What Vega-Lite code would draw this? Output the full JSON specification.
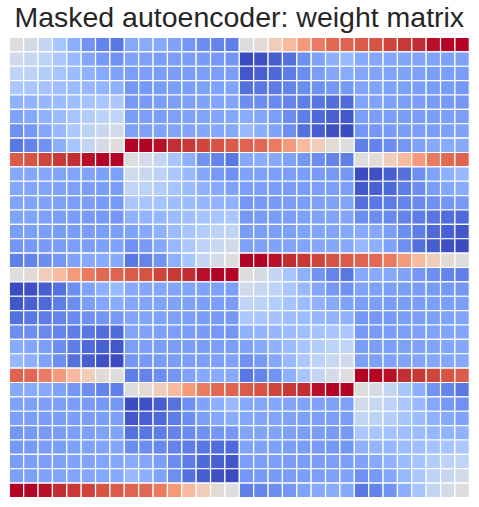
{
"$schema": "https://vega.github.io/schema/vega-lite/v6.json",
"autosize": {"type": "none"},
"width": 460,
"height": 460,
"padding": {"left": 9.3, "top": 37.5, "right": 10, "bottom": 10},
"background": "white",
"title": {"text": "Masked autoencoder: weight matrix", "font": "Liberation Sans", "fontSize": 28.5, "fontWeight": "normal", "color": "#262626", "anchor": "middle", "offset": 4},
"config": {"view": {"stroke": null}},
"data": {"values": [
{"r":0,"c":0,"v":0},{"r":0,"c":1,"v":-0.06},{"r":0,"c":2,"v":-0.18},{"r":0,"c":3,"v":-0.35},{"r":0,"c":4,"v":-0.5},{"r":0,"c":5,"v":-0.66},{"r":0,"c":6,"v":-0.74},{"r":0,"c":7,"v":-0.8},
{"r":0,"c":8,"v":-0.54},{"r":0,"c":9,"v":-0.53},{"r":0,"c":10,"v":-0.54},{"r":0,"c":11,"v":-0.58},{"r":0,"c":12,"v":-0.64},{"r":0,"c":13,"v":-0.69},{"r":0,"c":14,"v":-0.74},{"r":0,"c":15,"v":-0.76},
{"r":0,"c":16,"v":0},{"r":0,"c":17,"v":0.04},{"r":0,"c":18,"v":0.18},{"r":0,"c":19,"v":0.32},{"r":0,"c":20,"v":0.5},{"r":0,"c":21,"v":0.64},{"r":0,"c":22,"v":0.72},{"r":0,"c":23,"v":0.74},
{"r":0,"c":24,"v":0.77},{"r":0,"c":25,"v":0.8},{"r":0,"c":26,"v":0.85},{"r":0,"c":27,"v":0.89},{"r":0,"c":28,"v":0.92},{"r":0,"c":29,"v":0.98},{"r":0,"c":30,"v":1},{"r":0,"c":31,"v":1},
{"r":1,"c":0,"v":-0.1},{"r":1,"c":1,"v":-0.15},{"r":1,"c":2,"v":-0.22},{"r":1,"c":3,"v":-0.33},{"r":1,"c":4,"v":-0.44},{"r":1,"c":5,"v":-0.55},{"r":1,"c":6,"v":-0.63},{"r":1,"c":7,"v":-0.67},
{"r":1,"c":8,"v":-0.58},{"r":1,"c":9,"v":-0.59},{"r":1,"c":10,"v":-0.6},{"r":1,"c":11,"v":-0.6},{"r":1,"c":12,"v":-0.61},{"r":1,"c":13,"v":-0.62},{"r":1,"c":14,"v":-0.63},{"r":1,"c":15,"v":-0.64},
{"r":1,"c":16,"v":-1},{"r":1,"c":17,"v":-0.98},{"r":1,"c":18,"v":-0.92},{"r":1,"c":19,"v":-0.83},{"r":1,"c":20,"v":-0.68},{"r":1,"c":21,"v":-0.58},{"r":1,"c":22,"v":-0.5},{"r":1,"c":23,"v":-0.44},
{"r":1,"c":24,"v":-0.54},{"r":1,"c":25,"v":-0.55},{"r":1,"c":26,"v":-0.55},{"r":1,"c":27,"v":-0.56},{"r":1,"c":28,"v":-0.57},{"r":1,"c":29,"v":-0.58},{"r":1,"c":30,"v":-0.59},{"r":1,"c":31,"v":-0.59},
{"r":2,"c":0,"v":-0.2},{"r":2,"c":1,"v":-0.22},{"r":2,"c":2,"v":-0.28},{"r":2,"c":3,"v":-0.36},{"r":2,"c":4,"v":-0.42},{"r":2,"c":5,"v":-0.49},{"r":2,"c":6,"v":-0.54},{"r":2,"c":7,"v":-0.58},
{"r":2,"c":8,"v":-0.6},{"r":2,"c":9,"v":-0.6},{"r":2,"c":10,"v":-0.61},{"r":2,"c":11,"v":-0.61},{"r":2,"c":12,"v":-0.61},{"r":2,"c":13,"v":-0.6},{"r":2,"c":14,"v":-0.6},{"r":2,"c":15,"v":-0.6},
{"r":2,"c":16,"v":-0.95},{"r":2,"c":17,"v":-0.91},{"r":2,"c":18,"v":-0.87},{"r":2,"c":19,"v":-0.77},{"r":2,"c":20,"v":-0.69},{"r":2,"c":21,"v":-0.6},{"r":2,"c":22,"v":-0.55},{"r":2,"c":23,"v":-0.53},
{"r":2,"c":24,"v":-0.55},{"r":2,"c":25,"v":-0.56},{"r":2,"c":26,"v":-0.57},{"r":2,"c":27,"v":-0.58},{"r":2,"c":28,"v":-0.59},{"r":2,"c":29,"v":-0.6},{"r":2,"c":30,"v":-0.6},{"r":2,"c":31,"v":-0.61},
{"r":3,"c":0,"v":-0.33},{"r":3,"c":1,"v":-0.35},{"r":3,"c":2,"v":-0.37},{"r":3,"c":3,"v":-0.4},{"r":3,"c":4,"v":-0.42},{"r":3,"c":5,"v":-0.45},{"r":3,"c":6,"v":-0.47},{"r":3,"c":7,"v":-0.49},
{"r":3,"c":8,"v":-0.64},{"r":3,"c":9,"v":-0.63},{"r":3,"c":10,"v":-0.62},{"r":3,"c":11,"v":-0.61},{"r":3,"c":12,"v":-0.6},{"r":3,"c":13,"v":-0.59},{"r":3,"c":14,"v":-0.58},{"r":3,"c":15,"v":-0.57},
{"r":3,"c":16,"v":-0.83},{"r":3,"c":17,"v":-0.8},{"r":3,"c":18,"v":-0.78},{"r":3,"c":19,"v":-0.74},{"r":3,"c":20,"v":-0.7},{"r":3,"c":21,"v":-0.67},{"r":3,"c":22,"v":-0.64},{"r":3,"c":23,"v":-0.63},
{"r":3,"c":24,"v":-0.56},{"r":3,"c":25,"v":-0.57},{"r":3,"c":26,"v":-0.58},{"r":3,"c":27,"v":-0.59},{"r":3,"c":28,"v":-0.6},{"r":3,"c":29,"v":-0.61},{"r":3,"c":30,"v":-0.62},{"r":3,"c":31,"v":-0.63},
{"r":4,"c":0,"v":-0.49},{"r":4,"c":1,"v":-0.47},{"r":4,"c":2,"v":-0.45},{"r":4,"c":3,"v":-0.42},{"r":4,"c":4,"v":-0.4},{"r":4,"c":5,"v":-0.37},{"r":4,"c":6,"v":-0.35},{"r":4,"c":7,"v":-0.33},
{"r":4,"c":8,"v":-0.63},{"r":4,"c":9,"v":-0.62},{"r":4,"c":10,"v":-0.61},{"r":4,"c":11,"v":-0.6},{"r":4,"c":12,"v":-0.59},{"r":4,"c":13,"v":-0.58},{"r":4,"c":14,"v":-0.57},{"r":4,"c":15,"v":-0.56},
{"r":4,"c":16,"v":-0.69},{"r":4,"c":17,"v":-0.69},{"r":4,"c":18,"v":-0.71},{"r":4,"c":19,"v":-0.74},{"r":4,"c":20,"v":-0.77},{"r":4,"c":21,"v":-0.81},{"r":4,"c":22,"v":-0.85},{"r":4,"c":23,"v":-0.86},
{"r":4,"c":24,"v":-0.57},{"r":4,"c":25,"v":-0.58},{"r":4,"c":26,"v":-0.59},{"r":4,"c":27,"v":-0.6},{"r":4,"c":28,"v":-0.61},{"r":4,"c":29,"v":-0.62},{"r":4,"c":30,"v":-0.63},{"r":4,"c":31,"v":-0.64},
{"r":5,"c":0,"v":-0.58},{"r":5,"c":1,"v":-0.54},{"r":5,"c":2,"v":-0.49},{"r":5,"c":3,"v":-0.42},{"r":5,"c":4,"v":-0.36},{"r":5,"c":5,"v":-0.28},{"r":5,"c":6,"v":-0.22},{"r":5,"c":7,"v":-0.2},
{"r":5,"c":8,"v":-0.61},{"r":5,"c":9,"v":-0.6},{"r":5,"c":10,"v":-0.6},{"r":5,"c":11,"v":-0.59},{"r":5,"c":12,"v":-0.58},{"r":5,"c":13,"v":-0.57},{"r":5,"c":14,"v":-0.56},{"r":5,"c":15,"v":-0.55},
{"r":5,"c":16,"v":-0.53},{"r":5,"c":17,"v":-0.55},{"r":5,"c":18,"v":-0.6},{"r":5,"c":19,"v":-0.69},{"r":5,"c":20,"v":-0.77},{"r":5,"c":21,"v":-0.87},{"r":5,"c":22,"v":-0.91},{"r":5,"c":23,"v":-0.95},
{"r":5,"c":24,"v":-0.6},{"r":5,"c":25,"v":-0.6},{"r":5,"c":26,"v":-0.6},{"r":5,"c":27,"v":-0.61},{"r":5,"c":28,"v":-0.61},{"r":5,"c":29,"v":-0.61},{"r":5,"c":30,"v":-0.6},{"r":5,"c":31,"v":-0.6},
{"r":6,"c":0,"v":-0.67},{"r":6,"c":1,"v":-0.63},{"r":6,"c":2,"v":-0.55},{"r":6,"c":3,"v":-0.44},{"r":6,"c":4,"v":-0.33},{"r":6,"c":5,"v":-0.22},{"r":6,"c":6,"v":-0.15},{"r":6,"c":7,"v":-0.1},
{"r":6,"c":8,"v":-0.59},{"r":6,"c":9,"v":-0.59},{"r":6,"c":10,"v":-0.58},{"r":6,"c":11,"v":-0.57},{"r":6,"c":12,"v":-0.56},{"r":6,"c":13,"v":-0.55},{"r":6,"c":14,"v":-0.55},{"r":6,"c":15,"v":-0.54},
{"r":6,"c":16,"v":-0.44},{"r":6,"c":17,"v":-0.5},{"r":6,"c":18,"v":-0.58},{"r":6,"c":19,"v":-0.68},{"r":6,"c":20,"v":-0.83},{"r":6,"c":21,"v":-0.92},{"r":6,"c":22,"v":-0.98},{"r":6,"c":23,"v":-1},
{"r":6,"c":24,"v":-0.64},{"r":6,"c":25,"v":-0.63},{"r":6,"c":26,"v":-0.62},{"r":6,"c":27,"v":-0.61},{"r":6,"c":28,"v":-0.6},{"r":6,"c":29,"v":-0.6},{"r":6,"c":30,"v":-0.59},{"r":6,"c":31,"v":-0.58},
{"r":7,"c":0,"v":-0.8},{"r":7,"c":1,"v":-0.74},{"r":7,"c":2,"v":-0.66},{"r":7,"c":3,"v":-0.5},{"r":7,"c":4,"v":-0.35},{"r":7,"c":5,"v":-0.18},{"r":7,"c":6,"v":-0.06},{"r":7,"c":7,"v":0},
{"r":7,"c":8,"v":1},{"r":7,"c":9,"v":1},{"r":7,"c":10,"v":0.98},{"r":7,"c":11,"v":0.92},{"r":7,"c":12,"v":0.89},{"r":7,"c":13,"v":0.85},{"r":7,"c":14,"v":0.8},{"r":7,"c":15,"v":0.77},
{"r":7,"c":16,"v":0.74},{"r":7,"c":17,"v":0.72},{"r":7,"c":18,"v":0.64},{"r":7,"c":19,"v":0.5},{"r":7,"c":20,"v":0.32},{"r":7,"c":21,"v":0.18},{"r":7,"c":22,"v":0.04},{"r":7,"c":23,"v":0},
{"r":7,"c":24,"v":-0.76},{"r":7,"c":25,"v":-0.74},{"r":7,"c":26,"v":-0.69},{"r":7,"c":27,"v":-0.64},{"r":7,"c":28,"v":-0.58},{"r":7,"c":29,"v":-0.54},{"r":7,"c":30,"v":-0.53},{"r":7,"c":31,"v":-0.54},
{"r":8,"c":0,"v":0.77},{"r":8,"c":1,"v":0.8},{"r":8,"c":2,"v":0.85},{"r":8,"c":3,"v":0.89},{"r":8,"c":4,"v":0.92},{"r":8,"c":5,"v":0.98},{"r":8,"c":6,"v":1},{"r":8,"c":7,"v":1},
{"r":8,"c":8,"v":0},{"r":8,"c":9,"v":-0.06},{"r":8,"c":10,"v":-0.18},{"r":8,"c":11,"v":-0.35},{"r":8,"c":12,"v":-0.5},{"r":8,"c":13,"v":-0.66},{"r":8,"c":14,"v":-0.74},{"r":8,"c":15,"v":-0.8},
{"r":8,"c":16,"v":-0.54},{"r":8,"c":17,"v":-0.53},{"r":8,"c":18,"v":-0.54},{"r":8,"c":19,"v":-0.58},{"r":8,"c":20,"v":-0.64},{"r":8,"c":21,"v":-0.69},{"r":8,"c":22,"v":-0.74},{"r":8,"c":23,"v":-0.76},
{"r":8,"c":24,"v":0},{"r":8,"c":25,"v":0.04},{"r":8,"c":26,"v":0.18},{"r":8,"c":27,"v":0.32},{"r":8,"c":28,"v":0.5},{"r":8,"c":29,"v":0.64},{"r":8,"c":30,"v":0.72},{"r":8,"c":31,"v":0.74},
{"r":9,"c":0,"v":-0.54},{"r":9,"c":1,"v":-0.55},{"r":9,"c":2,"v":-0.55},{"r":9,"c":3,"v":-0.56},{"r":9,"c":4,"v":-0.57},{"r":9,"c":5,"v":-0.58},{"r":9,"c":6,"v":-0.59},{"r":9,"c":7,"v":-0.59},
{"r":9,"c":8,"v":-0.1},{"r":9,"c":9,"v":-0.15},{"r":9,"c":10,"v":-0.22},{"r":9,"c":11,"v":-0.33},{"r":9,"c":12,"v":-0.44},{"r":9,"c":13,"v":-0.55},{"r":9,"c":14,"v":-0.63},{"r":9,"c":15,"v":-0.67},
{"r":9,"c":16,"v":-0.58},{"r":9,"c":17,"v":-0.59},{"r":9,"c":18,"v":-0.6},{"r":9,"c":19,"v":-0.6},{"r":9,"c":20,"v":-0.61},{"r":9,"c":21,"v":-0.62},{"r":9,"c":22,"v":-0.63},{"r":9,"c":23,"v":-0.64},
{"r":9,"c":24,"v":-1},{"r":9,"c":25,"v":-0.98},{"r":9,"c":26,"v":-0.92},{"r":9,"c":27,"v":-0.83},{"r":9,"c":28,"v":-0.68},{"r":9,"c":29,"v":-0.58},{"r":9,"c":30,"v":-0.5},{"r":9,"c":31,"v":-0.44},
{"r":10,"c":0,"v":-0.55},{"r":10,"c":1,"v":-0.56},{"r":10,"c":2,"v":-0.57},{"r":10,"c":3,"v":-0.58},{"r":10,"c":4,"v":-0.59},{"r":10,"c":5,"v":-0.6},{"r":10,"c":6,"v":-0.6},{"r":10,"c":7,"v":-0.61},
{"r":10,"c":8,"v":-0.2},{"r":10,"c":9,"v":-0.22},{"r":10,"c":10,"v":-0.28},{"r":10,"c":11,"v":-0.36},{"r":10,"c":12,"v":-0.42},{"r":10,"c":13,"v":-0.49},{"r":10,"c":14,"v":-0.54},{"r":10,"c":15,"v":-0.58},
{"r":10,"c":16,"v":-0.6},{"r":10,"c":17,"v":-0.6},{"r":10,"c":18,"v":-0.61},{"r":10,"c":19,"v":-0.61},{"r":10,"c":20,"v":-0.61},{"r":10,"c":21,"v":-0.6},{"r":10,"c":22,"v":-0.6},{"r":10,"c":23,"v":-0.6},
{"r":10,"c":24,"v":-0.95},{"r":10,"c":25,"v":-0.91},{"r":10,"c":26,"v":-0.87},{"r":10,"c":27,"v":-0.77},{"r":10,"c":28,"v":-0.69},{"r":10,"c":29,"v":-0.6},{"r":10,"c":30,"v":-0.55},{"r":10,"c":31,"v":-0.53},
{"r":11,"c":0,"v":-0.56},{"r":11,"c":1,"v":-0.57},{"r":11,"c":2,"v":-0.58},{"r":11,"c":3,"v":-0.59},{"r":11,"c":4,"v":-0.6},{"r":11,"c":5,"v":-0.61},{"r":11,"c":6,"v":-0.62},{"r":11,"c":7,"v":-0.63},
{"r":11,"c":8,"v":-0.33},{"r":11,"c":9,"v":-0.35},{"r":11,"c":10,"v":-0.37},{"r":11,"c":11,"v":-0.4},{"r":11,"c":12,"v":-0.42},{"r":11,"c":13,"v":-0.45},{"r":11,"c":14,"v":-0.47},{"r":11,"c":15,"v":-0.49},
{"r":11,"c":16,"v":-0.64},{"r":11,"c":17,"v":-0.63},{"r":11,"c":18,"v":-0.62},{"r":11,"c":19,"v":-0.61},{"r":11,"c":20,"v":-0.6},{"r":11,"c":21,"v":-0.59},{"r":11,"c":22,"v":-0.58},{"r":11,"c":23,"v":-0.57},
{"r":11,"c":24,"v":-0.83},{"r":11,"c":25,"v":-0.8},{"r":11,"c":26,"v":-0.78},{"r":11,"c":27,"v":-0.74},{"r":11,"c":28,"v":-0.7},{"r":11,"c":29,"v":-0.67},{"r":11,"c":30,"v":-0.64},{"r":11,"c":31,"v":-0.63},
{"r":12,"c":0,"v":-0.57},{"r":12,"c":1,"v":-0.58},{"r":12,"c":2,"v":-0.59},{"r":12,"c":3,"v":-0.6},{"r":12,"c":4,"v":-0.61},{"r":12,"c":5,"v":-0.62},{"r":12,"c":6,"v":-0.63},{"r":12,"c":7,"v":-0.64},
{"r":12,"c":8,"v":-0.49},{"r":12,"c":9,"v":-0.47},{"r":12,"c":10,"v":-0.45},{"r":12,"c":11,"v":-0.42},{"r":12,"c":12,"v":-0.4},{"r":12,"c":13,"v":-0.37},{"r":12,"c":14,"v":-0.35},{"r":12,"c":15,"v":-0.33},
{"r":12,"c":16,"v":-0.63},{"r":12,"c":17,"v":-0.62},{"r":12,"c":18,"v":-0.61},{"r":12,"c":19,"v":-0.6},{"r":12,"c":20,"v":-0.59},{"r":12,"c":21,"v":-0.58},{"r":12,"c":22,"v":-0.57},{"r":12,"c":23,"v":-0.56},
{"r":12,"c":24,"v":-0.69},{"r":12,"c":25,"v":-0.69},{"r":12,"c":26,"v":-0.71},{"r":12,"c":27,"v":-0.74},{"r":12,"c":28,"v":-0.77},{"r":12,"c":29,"v":-0.81},{"r":12,"c":30,"v":-0.85},{"r":12,"c":31,"v":-0.86},
{"r":13,"c":0,"v":-0.6},{"r":13,"c":1,"v":-0.6},{"r":13,"c":2,"v":-0.6},{"r":13,"c":3,"v":-0.61},{"r":13,"c":4,"v":-0.61},{"r":13,"c":5,"v":-0.61},{"r":13,"c":6,"v":-0.6},{"r":13,"c":7,"v":-0.6},
{"r":13,"c":8,"v":-0.58},{"r":13,"c":9,"v":-0.54},{"r":13,"c":10,"v":-0.49},{"r":13,"c":11,"v":-0.42},{"r":13,"c":12,"v":-0.36},{"r":13,"c":13,"v":-0.28},{"r":13,"c":14,"v":-0.22},{"r":13,"c":15,"v":-0.2},
{"r":13,"c":16,"v":-0.61},{"r":13,"c":17,"v":-0.6},{"r":13,"c":18,"v":-0.6},{"r":13,"c":19,"v":-0.59},{"r":13,"c":20,"v":-0.58},{"r":13,"c":21,"v":-0.57},{"r":13,"c":22,"v":-0.56},{"r":13,"c":23,"v":-0.55},
{"r":13,"c":24,"v":-0.53},{"r":13,"c":25,"v":-0.55},{"r":13,"c":26,"v":-0.6},{"r":13,"c":27,"v":-0.69},{"r":13,"c":28,"v":-0.77},{"r":13,"c":29,"v":-0.87},{"r":13,"c":30,"v":-0.91},{"r":13,"c":31,"v":-0.95},
{"r":14,"c":0,"v":-0.64},{"r":14,"c":1,"v":-0.63},{"r":14,"c":2,"v":-0.62},{"r":14,"c":3,"v":-0.61},{"r":14,"c":4,"v":-0.6},{"r":14,"c":5,"v":-0.6},{"r":14,"c":6,"v":-0.59},{"r":14,"c":7,"v":-0.58},
{"r":14,"c":8,"v":-0.67},{"r":14,"c":9,"v":-0.63},{"r":14,"c":10,"v":-0.55},{"r":14,"c":11,"v":-0.44},{"r":14,"c":12,"v":-0.33},{"r":14,"c":13,"v":-0.22},{"r":14,"c":14,"v":-0.15},{"r":14,"c":15,"v":-0.1},
{"r":14,"c":16,"v":-0.59},{"r":14,"c":17,"v":-0.59},{"r":14,"c":18,"v":-0.58},{"r":14,"c":19,"v":-0.57},{"r":14,"c":20,"v":-0.56},{"r":14,"c":21,"v":-0.55},{"r":14,"c":22,"v":-0.55},{"r":14,"c":23,"v":-0.54},
{"r":14,"c":24,"v":-0.44},{"r":14,"c":25,"v":-0.5},{"r":14,"c":26,"v":-0.58},{"r":14,"c":27,"v":-0.68},{"r":14,"c":28,"v":-0.83},{"r":14,"c":29,"v":-0.92},{"r":14,"c":30,"v":-0.98},{"r":14,"c":31,"v":-1},
{"r":15,"c":0,"v":-0.76},{"r":15,"c":1,"v":-0.74},{"r":15,"c":2,"v":-0.69},{"r":15,"c":3,"v":-0.64},{"r":15,"c":4,"v":-0.58},{"r":15,"c":5,"v":-0.54},{"r":15,"c":6,"v":-0.53},{"r":15,"c":7,"v":-0.54},
{"r":15,"c":8,"v":-0.8},{"r":15,"c":9,"v":-0.74},{"r":15,"c":10,"v":-0.66},{"r":15,"c":11,"v":-0.5},{"r":15,"c":12,"v":-0.35},{"r":15,"c":13,"v":-0.18},{"r":15,"c":14,"v":-0.06},{"r":15,"c":15,"v":0},
{"r":15,"c":16,"v":1},{"r":15,"c":17,"v":1},{"r":15,"c":18,"v":0.98},{"r":15,"c":19,"v":0.92},{"r":15,"c":20,"v":0.89},{"r":15,"c":21,"v":0.85},{"r":15,"c":22,"v":0.8},{"r":15,"c":23,"v":0.77},
{"r":15,"c":24,"v":0.74},{"r":15,"c":25,"v":0.72},{"r":15,"c":26,"v":0.64},{"r":15,"c":27,"v":0.5},{"r":15,"c":28,"v":0.32},{"r":15,"c":29,"v":0.18},{"r":15,"c":30,"v":0.04},{"r":15,"c":31,"v":0},
{"r":16,"c":0,"v":0},{"r":16,"c":1,"v":0.04},{"r":16,"c":2,"v":0.18},{"r":16,"c":3,"v":0.32},{"r":16,"c":4,"v":0.5},{"r":16,"c":5,"v":0.64},{"r":16,"c":6,"v":0.72},{"r":16,"c":7,"v":0.74},
{"r":16,"c":8,"v":0.77},{"r":16,"c":9,"v":0.8},{"r":16,"c":10,"v":0.85},{"r":16,"c":11,"v":0.89},{"r":16,"c":12,"v":0.92},{"r":16,"c":13,"v":0.98},{"r":16,"c":14,"v":1},{"r":16,"c":15,"v":1},
{"r":16,"c":16,"v":0},{"r":16,"c":17,"v":-0.06},{"r":16,"c":18,"v":-0.18},{"r":16,"c":19,"v":-0.35},{"r":16,"c":20,"v":-0.5},{"r":16,"c":21,"v":-0.66},{"r":16,"c":22,"v":-0.74},{"r":16,"c":23,"v":-0.8},
{"r":16,"c":24,"v":-0.54},{"r":16,"c":25,"v":-0.53},{"r":16,"c":26,"v":-0.54},{"r":16,"c":27,"v":-0.58},{"r":16,"c":28,"v":-0.64},{"r":16,"c":29,"v":-0.69},{"r":16,"c":30,"v":-0.74},{"r":16,"c":31,"v":-0.76},
{"r":17,"c":0,"v":-1},{"r":17,"c":1,"v":-0.98},{"r":17,"c":2,"v":-0.92},{"r":17,"c":3,"v":-0.83},{"r":17,"c":4,"v":-0.68},{"r":17,"c":5,"v":-0.58},{"r":17,"c":6,"v":-0.5},{"r":17,"c":7,"v":-0.44},
{"r":17,"c":8,"v":-0.54},{"r":17,"c":9,"v":-0.55},{"r":17,"c":10,"v":-0.55},{"r":17,"c":11,"v":-0.56},{"r":17,"c":12,"v":-0.57},{"r":17,"c":13,"v":-0.58},{"r":17,"c":14,"v":-0.59},{"r":17,"c":15,"v":-0.59},
{"r":17,"c":16,"v":-0.1},{"r":17,"c":17,"v":-0.15},{"r":17,"c":18,"v":-0.22},{"r":17,"c":19,"v":-0.33},{"r":17,"c":20,"v":-0.44},{"r":17,"c":21,"v":-0.55},{"r":17,"c":22,"v":-0.63},{"r":17,"c":23,"v":-0.67},
{"r":17,"c":24,"v":-0.58},{"r":17,"c":25,"v":-0.59},{"r":17,"c":26,"v":-0.6},{"r":17,"c":27,"v":-0.6},{"r":17,"c":28,"v":-0.61},{"r":17,"c":29,"v":-0.62},{"r":17,"c":30,"v":-0.63},{"r":17,"c":31,"v":-0.64},
{"r":18,"c":0,"v":-0.95},{"r":18,"c":1,"v":-0.91},{"r":18,"c":2,"v":-0.87},{"r":18,"c":3,"v":-0.77},{"r":18,"c":4,"v":-0.69},{"r":18,"c":5,"v":-0.6},{"r":18,"c":6,"v":-0.55},{"r":18,"c":7,"v":-0.53},
{"r":18,"c":8,"v":-0.55},{"r":18,"c":9,"v":-0.56},{"r":18,"c":10,"v":-0.57},{"r":18,"c":11,"v":-0.58},{"r":18,"c":12,"v":-0.59},{"r":18,"c":13,"v":-0.6},{"r":18,"c":14,"v":-0.6},{"r":18,"c":15,"v":-0.61},
{"r":18,"c":16,"v":-0.2},{"r":18,"c":17,"v":-0.22},{"r":18,"c":18,"v":-0.28},{"r":18,"c":19,"v":-0.36},{"r":18,"c":20,"v":-0.42},{"r":18,"c":21,"v":-0.49},{"r":18,"c":22,"v":-0.54},{"r":18,"c":23,"v":-0.58},
{"r":18,"c":24,"v":-0.6},{"r":18,"c":25,"v":-0.6},{"r":18,"c":26,"v":-0.61},{"r":18,"c":27,"v":-0.61},{"r":18,"c":28,"v":-0.61},{"r":18,"c":29,"v":-0.6},{"r":18,"c":30,"v":-0.6},{"r":18,"c":31,"v":-0.6},
{"r":19,"c":0,"v":-0.83},{"r":19,"c":1,"v":-0.8},{"r":19,"c":2,"v":-0.78},{"r":19,"c":3,"v":-0.74},{"r":19,"c":4,"v":-0.7},{"r":19,"c":5,"v":-0.67},{"r":19,"c":6,"v":-0.64},{"r":19,"c":7,"v":-0.63},
{"r":19,"c":8,"v":-0.56},{"r":19,"c":9,"v":-0.57},{"r":19,"c":10,"v":-0.58},{"r":19,"c":11,"v":-0.59},{"r":19,"c":12,"v":-0.6},{"r":19,"c":13,"v":-0.61},{"r":19,"c":14,"v":-0.62},{"r":19,"c":15,"v":-0.63},
{"r":19,"c":16,"v":-0.33},{"r":19,"c":17,"v":-0.35},{"r":19,"c":18,"v":-0.37},{"r":19,"c":19,"v":-0.4},{"r":19,"c":20,"v":-0.42},{"r":19,"c":21,"v":-0.45},{"r":19,"c":22,"v":-0.47},{"r":19,"c":23,"v":-0.49},
{"r":19,"c":24,"v":-0.64},{"r":19,"c":25,"v":-0.63},{"r":19,"c":26,"v":-0.62},{"r":19,"c":27,"v":-0.61},{"r":19,"c":28,"v":-0.6},{"r":19,"c":29,"v":-0.59},{"r":19,"c":30,"v":-0.58},{"r":19,"c":31,"v":-0.57},
{"r":20,"c":0,"v":-0.69},{"r":20,"c":1,"v":-0.69},{"r":20,"c":2,"v":-0.71},{"r":20,"c":3,"v":-0.74},{"r":20,"c":4,"v":-0.77},{"r":20,"c":5,"v":-0.81},{"r":20,"c":6,"v":-0.85},{"r":20,"c":7,"v":-0.86},
{"r":20,"c":8,"v":-0.57},{"r":20,"c":9,"v":-0.58},{"r":20,"c":10,"v":-0.59},{"r":20,"c":11,"v":-0.6},{"r":20,"c":12,"v":-0.61},{"r":20,"c":13,"v":-0.62},{"r":20,"c":14,"v":-0.63},{"r":20,"c":15,"v":-0.64},
{"r":20,"c":16,"v":-0.49},{"r":20,"c":17,"v":-0.47},{"r":20,"c":18,"v":-0.45},{"r":20,"c":19,"v":-0.42},{"r":20,"c":20,"v":-0.4},{"r":20,"c":21,"v":-0.37},{"r":20,"c":22,"v":-0.35},{"r":20,"c":23,"v":-0.33},
{"r":20,"c":24,"v":-0.63},{"r":20,"c":25,"v":-0.62},{"r":20,"c":26,"v":-0.61},{"r":20,"c":27,"v":-0.6},{"r":20,"c":28,"v":-0.59},{"r":20,"c":29,"v":-0.58},{"r":20,"c":30,"v":-0.57},{"r":20,"c":31,"v":-0.56},
{"r":21,"c":0,"v":-0.53},{"r":21,"c":1,"v":-0.55},{"r":21,"c":2,"v":-0.6},{"r":21,"c":3,"v":-0.69},{"r":21,"c":4,"v":-0.77},{"r":21,"c":5,"v":-0.87},{"r":21,"c":6,"v":-0.91},{"r":21,"c":7,"v":-0.95},
{"r":21,"c":8,"v":-0.6},{"r":21,"c":9,"v":-0.6},{"r":21,"c":10,"v":-0.6},{"r":21,"c":11,"v":-0.61},{"r":21,"c":12,"v":-0.61},{"r":21,"c":13,"v":-0.61},{"r":21,"c":14,"v":-0.6},{"r":21,"c":15,"v":-0.6},
{"r":21,"c":16,"v":-0.58},{"r":21,"c":17,"v":-0.54},{"r":21,"c":18,"v":-0.49},{"r":21,"c":19,"v":-0.42},{"r":21,"c":20,"v":-0.36},{"r":21,"c":21,"v":-0.28},{"r":21,"c":22,"v":-0.22},{"r":21,"c":23,"v":-0.2},
{"r":21,"c":24,"v":-0.61},{"r":21,"c":25,"v":-0.6},{"r":21,"c":26,"v":-0.6},{"r":21,"c":27,"v":-0.59},{"r":21,"c":28,"v":-0.58},{"r":21,"c":29,"v":-0.57},{"r":21,"c":30,"v":-0.56},{"r":21,"c":31,"v":-0.55},
{"r":22,"c":0,"v":-0.44},{"r":22,"c":1,"v":-0.5},{"r":22,"c":2,"v":-0.58},{"r":22,"c":3,"v":-0.68},{"r":22,"c":4,"v":-0.83},{"r":22,"c":5,"v":-0.92},{"r":22,"c":6,"v":-0.98},{"r":22,"c":7,"v":-1},
{"r":22,"c":8,"v":-0.64},{"r":22,"c":9,"v":-0.63},{"r":22,"c":10,"v":-0.62},{"r":22,"c":11,"v":-0.61},{"r":22,"c":12,"v":-0.6},{"r":22,"c":13,"v":-0.6},{"r":22,"c":14,"v":-0.59},{"r":22,"c":15,"v":-0.58},
{"r":22,"c":16,"v":-0.67},{"r":22,"c":17,"v":-0.63},{"r":22,"c":18,"v":-0.55},{"r":22,"c":19,"v":-0.44},{"r":22,"c":20,"v":-0.33},{"r":22,"c":21,"v":-0.22},{"r":22,"c":22,"v":-0.15},{"r":22,"c":23,"v":-0.1},
{"r":22,"c":24,"v":-0.59},{"r":22,"c":25,"v":-0.59},{"r":22,"c":26,"v":-0.58},{"r":22,"c":27,"v":-0.57},{"r":22,"c":28,"v":-0.56},{"r":22,"c":29,"v":-0.55},{"r":22,"c":30,"v":-0.55},{"r":22,"c":31,"v":-0.54},
{"r":23,"c":0,"v":0.74},{"r":23,"c":1,"v":0.72},{"r":23,"c":2,"v":0.64},{"r":23,"c":3,"v":0.5},{"r":23,"c":4,"v":0.32},{"r":23,"c":5,"v":0.18},{"r":23,"c":6,"v":0.04},{"r":23,"c":7,"v":0},
{"r":23,"c":8,"v":-0.76},{"r":23,"c":9,"v":-0.74},{"r":23,"c":10,"v":-0.69},{"r":23,"c":11,"v":-0.64},{"r":23,"c":12,"v":-0.58},{"r":23,"c":13,"v":-0.54},{"r":23,"c":14,"v":-0.53},{"r":23,"c":15,"v":-0.54},
{"r":23,"c":16,"v":-0.8},{"r":23,"c":17,"v":-0.74},{"r":23,"c":18,"v":-0.66},{"r":23,"c":19,"v":-0.5},{"r":23,"c":20,"v":-0.35},{"r":23,"c":21,"v":-0.18},{"r":23,"c":22,"v":-0.06},{"r":23,"c":23,"v":0},
{"r":23,"c":24,"v":1},{"r":23,"c":25,"v":1},{"r":23,"c":26,"v":0.98},{"r":23,"c":27,"v":0.92},{"r":23,"c":28,"v":0.89},{"r":23,"c":29,"v":0.85},{"r":23,"c":30,"v":0.8},{"r":23,"c":31,"v":0.77},
{"r":24,"c":0,"v":-0.54},{"r":24,"c":1,"v":-0.53},{"r":24,"c":2,"v":-0.54},{"r":24,"c":3,"v":-0.58},{"r":24,"c":4,"v":-0.64},{"r":24,"c":5,"v":-0.69},{"r":24,"c":6,"v":-0.74},{"r":24,"c":7,"v":-0.76},
{"r":24,"c":8,"v":0},{"r":24,"c":9,"v":0.04},{"r":24,"c":10,"v":0.18},{"r":24,"c":11,"v":0.32},{"r":24,"c":12,"v":0.5},{"r":24,"c":13,"v":0.64},{"r":24,"c":14,"v":0.72},{"r":24,"c":15,"v":0.74},
{"r":24,"c":16,"v":0.77},{"r":24,"c":17,"v":0.8},{"r":24,"c":18,"v":0.85},{"r":24,"c":19,"v":0.89},{"r":24,"c":20,"v":0.92},{"r":24,"c":21,"v":0.98},{"r":24,"c":22,"v":1},{"r":24,"c":23,"v":1},
{"r":24,"c":24,"v":0},{"r":24,"c":25,"v":-0.06},{"r":24,"c":26,"v":-0.18},{"r":24,"c":27,"v":-0.35},{"r":24,"c":28,"v":-0.5},{"r":24,"c":29,"v":-0.66},{"r":24,"c":30,"v":-0.74},{"r":24,"c":31,"v":-0.8},
{"r":25,"c":0,"v":-0.58},{"r":25,"c":1,"v":-0.59},{"r":25,"c":2,"v":-0.6},{"r":25,"c":3,"v":-0.6},{"r":25,"c":4,"v":-0.61},{"r":25,"c":5,"v":-0.62},{"r":25,"c":6,"v":-0.63},{"r":25,"c":7,"v":-0.64},
{"r":25,"c":8,"v":-1},{"r":25,"c":9,"v":-0.98},{"r":25,"c":10,"v":-0.92},{"r":25,"c":11,"v":-0.83},{"r":25,"c":12,"v":-0.68},{"r":25,"c":13,"v":-0.58},{"r":25,"c":14,"v":-0.5},{"r":25,"c":15,"v":-0.44},
{"r":25,"c":16,"v":-0.54},{"r":25,"c":17,"v":-0.55},{"r":25,"c":18,"v":-0.55},{"r":25,"c":19,"v":-0.56},{"r":25,"c":20,"v":-0.57},{"r":25,"c":21,"v":-0.58},{"r":25,"c":22,"v":-0.59},{"r":25,"c":23,"v":-0.59},
{"r":25,"c":24,"v":-0.1},{"r":25,"c":25,"v":-0.15},{"r":25,"c":26,"v":-0.22},{"r":25,"c":27,"v":-0.33},{"r":25,"c":28,"v":-0.44},{"r":25,"c":29,"v":-0.55},{"r":25,"c":30,"v":-0.63},{"r":25,"c":31,"v":-0.67},
{"r":26,"c":0,"v":-0.6},{"r":26,"c":1,"v":-0.6},{"r":26,"c":2,"v":-0.61},{"r":26,"c":3,"v":-0.61},{"r":26,"c":4,"v":-0.61},{"r":26,"c":5,"v":-0.6},{"r":26,"c":6,"v":-0.6},{"r":26,"c":7,"v":-0.6},
{"r":26,"c":8,"v":-0.95},{"r":26,"c":9,"v":-0.91},{"r":26,"c":10,"v":-0.87},{"r":26,"c":11,"v":-0.77},{"r":26,"c":12,"v":-0.69},{"r":26,"c":13,"v":-0.6},{"r":26,"c":14,"v":-0.55},{"r":26,"c":15,"v":-0.53},
{"r":26,"c":16,"v":-0.55},{"r":26,"c":17,"v":-0.56},{"r":26,"c":18,"v":-0.57},{"r":26,"c":19,"v":-0.58},{"r":26,"c":20,"v":-0.59},{"r":26,"c":21,"v":-0.6},{"r":26,"c":22,"v":-0.6},{"r":26,"c":23,"v":-0.61},
{"r":26,"c":24,"v":-0.2},{"r":26,"c":25,"v":-0.22},{"r":26,"c":26,"v":-0.28},{"r":26,"c":27,"v":-0.36},{"r":26,"c":28,"v":-0.42},{"r":26,"c":29,"v":-0.49},{"r":26,"c":30,"v":-0.54},{"r":26,"c":31,"v":-0.58},
{"r":27,"c":0,"v":-0.64},{"r":27,"c":1,"v":-0.63},{"r":27,"c":2,"v":-0.62},{"r":27,"c":3,"v":-0.61},{"r":27,"c":4,"v":-0.6},{"r":27,"c":5,"v":-0.59},{"r":27,"c":6,"v":-0.58},{"r":27,"c":7,"v":-0.57},
{"r":27,"c":8,"v":-0.83},{"r":27,"c":9,"v":-0.8},{"r":27,"c":10,"v":-0.78},{"r":27,"c":11,"v":-0.74},{"r":27,"c":12,"v":-0.7},{"r":27,"c":13,"v":-0.67},{"r":27,"c":14,"v":-0.64},{"r":27,"c":15,"v":-0.63},
{"r":27,"c":16,"v":-0.56},{"r":27,"c":17,"v":-0.57},{"r":27,"c":18,"v":-0.58},{"r":27,"c":19,"v":-0.59},{"r":27,"c":20,"v":-0.6},{"r":27,"c":21,"v":-0.61},{"r":27,"c":22,"v":-0.62},{"r":27,"c":23,"v":-0.63},
{"r":27,"c":24,"v":-0.33},{"r":27,"c":25,"v":-0.35},{"r":27,"c":26,"v":-0.37},{"r":27,"c":27,"v":-0.4},{"r":27,"c":28,"v":-0.42},{"r":27,"c":29,"v":-0.45},{"r":27,"c":30,"v":-0.47},{"r":27,"c":31,"v":-0.49},
{"r":28,"c":0,"v":-0.63},{"r":28,"c":1,"v":-0.62},{"r":28,"c":2,"v":-0.61},{"r":28,"c":3,"v":-0.6},{"r":28,"c":4,"v":-0.59},{"r":28,"c":5,"v":-0.58},{"r":28,"c":6,"v":-0.57},{"r":28,"c":7,"v":-0.56},
{"r":28,"c":8,"v":-0.69},{"r":28,"c":9,"v":-0.69},{"r":28,"c":10,"v":-0.71},{"r":28,"c":11,"v":-0.74},{"r":28,"c":12,"v":-0.77},{"r":28,"c":13,"v":-0.81},{"r":28,"c":14,"v":-0.85},{"r":28,"c":15,"v":-0.86},
{"r":28,"c":16,"v":-0.57},{"r":28,"c":17,"v":-0.58},{"r":28,"c":18,"v":-0.59},{"r":28,"c":19,"v":-0.6},{"r":28,"c":20,"v":-0.61},{"r":28,"c":21,"v":-0.62},{"r":28,"c":22,"v":-0.63},{"r":28,"c":23,"v":-0.64},
{"r":28,"c":24,"v":-0.49},{"r":28,"c":25,"v":-0.47},{"r":28,"c":26,"v":-0.45},{"r":28,"c":27,"v":-0.42},{"r":28,"c":28,"v":-0.4},{"r":28,"c":29,"v":-0.37},{"r":28,"c":30,"v":-0.35},{"r":28,"c":31,"v":-0.33},
{"r":29,"c":0,"v":-0.61},{"r":29,"c":1,"v":-0.6},{"r":29,"c":2,"v":-0.6},{"r":29,"c":3,"v":-0.59},{"r":29,"c":4,"v":-0.58},{"r":29,"c":5,"v":-0.57},{"r":29,"c":6,"v":-0.56},{"r":29,"c":7,"v":-0.55},
{"r":29,"c":8,"v":-0.53},{"r":29,"c":9,"v":-0.55},{"r":29,"c":10,"v":-0.6},{"r":29,"c":11,"v":-0.69},{"r":29,"c":12,"v":-0.77},{"r":29,"c":13,"v":-0.87},{"r":29,"c":14,"v":-0.91},{"r":29,"c":15,"v":-0.95},
{"r":29,"c":16,"v":-0.6},{"r":29,"c":17,"v":-0.6},{"r":29,"c":18,"v":-0.6},{"r":29,"c":19,"v":-0.61},{"r":29,"c":20,"v":-0.61},{"r":29,"c":21,"v":-0.61},{"r":29,"c":22,"v":-0.6},{"r":29,"c":23,"v":-0.6},
{"r":29,"c":24,"v":-0.58},{"r":29,"c":25,"v":-0.54},{"r":29,"c":26,"v":-0.49},{"r":29,"c":27,"v":-0.42},{"r":29,"c":28,"v":-0.36},{"r":29,"c":29,"v":-0.28},{"r":29,"c":30,"v":-0.22},{"r":29,"c":31,"v":-0.2},
{"r":30,"c":0,"v":-0.59},{"r":30,"c":1,"v":-0.59},{"r":30,"c":2,"v":-0.58},{"r":30,"c":3,"v":-0.57},{"r":30,"c":4,"v":-0.56},{"r":30,"c":5,"v":-0.55},{"r":30,"c":6,"v":-0.55},{"r":30,"c":7,"v":-0.54},
{"r":30,"c":8,"v":-0.44},{"r":30,"c":9,"v":-0.5},{"r":30,"c":10,"v":-0.58},{"r":30,"c":11,"v":-0.68},{"r":30,"c":12,"v":-0.83},{"r":30,"c":13,"v":-0.92},{"r":30,"c":14,"v":-0.98},{"r":30,"c":15,"v":-1},
{"r":30,"c":16,"v":-0.64},{"r":30,"c":17,"v":-0.63},{"r":30,"c":18,"v":-0.62},{"r":30,"c":19,"v":-0.61},{"r":30,"c":20,"v":-0.6},{"r":30,"c":21,"v":-0.6},{"r":30,"c":22,"v":-0.59},{"r":30,"c":23,"v":-0.58},
{"r":30,"c":24,"v":-0.67},{"r":30,"c":25,"v":-0.63},{"r":30,"c":26,"v":-0.55},{"r":30,"c":27,"v":-0.44},{"r":30,"c":28,"v":-0.33},{"r":30,"c":29,"v":-0.22},{"r":30,"c":30,"v":-0.15},{"r":30,"c":31,"v":-0.1},
{"r":31,"c":0,"v":1},{"r":31,"c":1,"v":1},{"r":31,"c":2,"v":0.98},{"r":31,"c":3,"v":0.92},{"r":31,"c":4,"v":0.89},{"r":31,"c":5,"v":0.85},{"r":31,"c":6,"v":0.8},{"r":31,"c":7,"v":0.77},
{"r":31,"c":8,"v":0.74},{"r":31,"c":9,"v":0.72},{"r":31,"c":10,"v":0.64},{"r":31,"c":11,"v":0.5},{"r":31,"c":12,"v":0.32},{"r":31,"c":13,"v":0.18},{"r":31,"c":14,"v":0.04},{"r":31,"c":15,"v":0},
{"r":31,"c":16,"v":-0.76},{"r":31,"c":17,"v":-0.74},{"r":31,"c":18,"v":-0.69},{"r":31,"c":19,"v":-0.64},{"r":31,"c":20,"v":-0.58},{"r":31,"c":21,"v":-0.54},{"r":31,"c":22,"v":-0.53},{"r":31,"c":23,"v":-0.54},
{"r":31,"c":24,"v":-0.8},{"r":31,"c":25,"v":-0.74},{"r":31,"c":26,"v":-0.66},{"r":31,"c":27,"v":-0.5},{"r":31,"c":28,"v":-0.35},{"r":31,"c":29,"v":-0.18},{"r":31,"c":30,"v":-0.06},{"r":31,"c":31,"v":0}
]},
"mark": {"type": "rect", "stroke": "white", "strokeWidth": 1.2},
"encoding": {
"x": {"field": "c", "type": "ordinal", "axis": null, "scale": {"paddingInner": 0, "paddingOuter": 0}},
"y": {"field": "r", "type": "ordinal", "axis": null, "scale": {"paddingInner": 0, "paddingOuter": 0}},
"color": {"field": "v", "type": "quantitative", "legend": null, "scale": {
"domain": [-1, -0.9375, -0.875, -0.8125, -0.75, -0.6875, -0.625, -0.5625, -0.5, -0.4375, -0.375, -0.3125, -0.25, -0.1875, -0.125, -0.0625, 0, 0.0625, 0.125, 0.1875, 0.25, 0.3125, 0.375, 0.4375, 0.5, 0.5625, 0.625, 0.6875, 0.75, 0.8125, 0.875, 0.9375, 1],
"range": ["#3b4cc0", "#445acc", "#4d68d7", "#5775e1", "#6282ea", "#6c8ef1", "#779af7", "#82a5fb", "#8db0fe", "#98b9ff", "#a3c2ff", "#aec9fd", "#b8d0f9", "#c2d5f4", "#ccd9ee", "#d5dbe6", "#dddddd", "#e5d8d1", "#ecd3c5", "#f1ccb9", "#f5c4ad", "#f7bba0", "#f7b194", "#f7a687", "#f49a7b", "#f18d6f", "#ec7f63", "#e57058", "#de604d", "#d55042", "#cb3e38", "#c0282f", "#b40426"],
"interpolate": "rgb"}}
}
}
